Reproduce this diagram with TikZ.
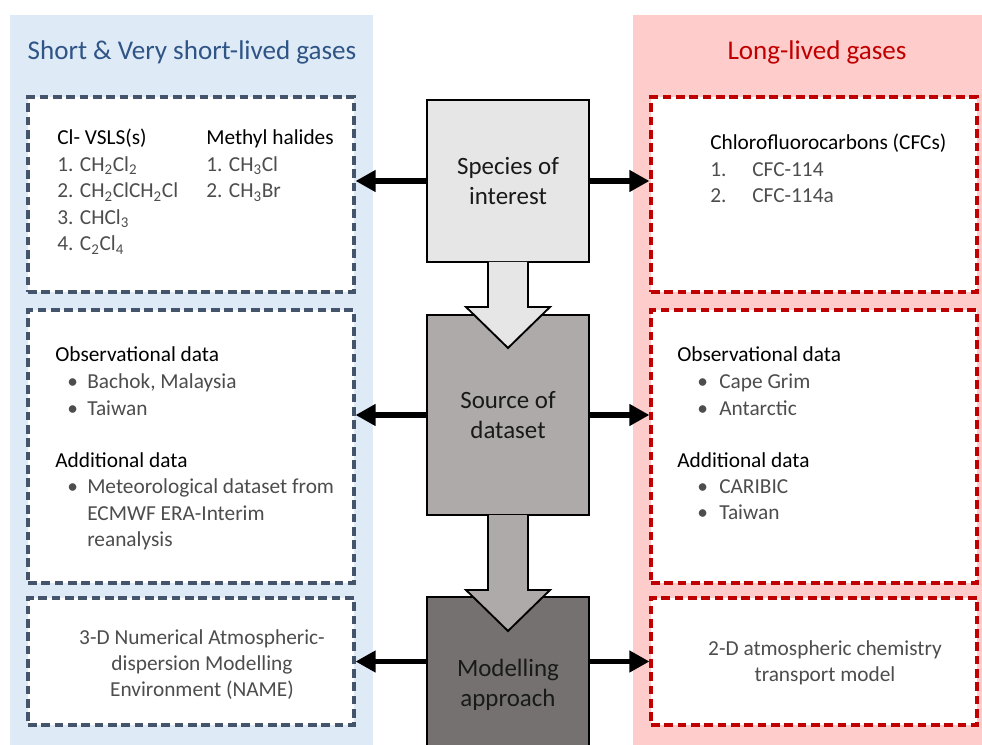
\documentclass[tikz,border=0pt]{standalone}
\usepackage{fontspec}
\setmainfont{Carlito}
\usetikzlibrary{arrows.meta}
\definecolor{shortbg}{HTML}{DEEAF6}
\definecolor{longbg}{HTML}{FFCCCC}
\definecolor{shortline}{HTML}{44546A}
\definecolor{longline}{HTML}{C00000}
\definecolor{shorttitle}{HTML}{2F5486}
\definecolor{longtitle}{HTML}{C00000}
\definecolor{itemgray}{HTML}{4D4D4D}
\definecolor{lightbox}{HTML}{E6E6E6}
\definecolor{midbox}{HTML}{AEAAAA}
\definecolor{darkbox}{HTML}{767171}
\newcommand\bodyfont{\fontsize{16}{19.5}\selectfont}
\newcommand\centrefont{\fontsize{18.7}{22}\selectfont}
\newcommand\titlefont{\fontsize{20.3}{24}\selectfont}
\tikzset{
    dashbox/.style={draw=#1, line width=2.3pt, dash pattern=on 6.5pt off 3.5pt,
        fill=white, inner sep=0pt, minimum width=244.5pt},
    centrebox/.style={draw=black, line width=1.4pt, fill=#1, inner sep=0pt,
        minimum width=121.5pt, align=center, font=\centrefont, text=black!90},
    blockarrow/.style={draw=black, line width=1.4pt, fill=#1, line join=miter},
    link/.style={line width=4.2pt, -{Triangle[length=15pt,width=15.5pt]}},
    head/.style={anchor=base west, inner sep=0pt, font=\bodyfont, text=black},
    item/.style={anchor=base west, inner sep=0pt, font=\bodyfont, text=itemgray},
}
\newcommand\bul{\makebox[15pt][l]{\textbullet}}
\begin{document}
\begin{tikzpicture}[x=0.75pt, y=-0.75pt]
    \useasboundingbox (0,0) rectangle (982,745);
    % Panels
    \fill [shortbg] (10,15) rectangle (373,750);
    \fill [longbg] (633,15) rectangle (990,750);
    \node [anchor=base, inner sep=0pt, font=\titlefont, text=shorttitle] (shorttitle) at (192,60) {Short \& Very short-lived gases};
    \node [anchor=base, inner sep=0pt, font=\titlefont, text=longtitle] (longtitle) at (817,60) {Long-lived gases};
    % Dashed boxes
    \node [dashbox=shortline, minimum height=146.25pt] (lbox1) at (191,194.5) {};
    \node [dashbox=shortline, minimum height=204.75pt] (lbox2) at (191,446.5) {};
    \node [dashbox=shortline, minimum height=95.25pt] (lbox3) at (191,661.5) {};
    \node [dashbox=longline, minimum height=146.25pt] (rbox1) at (814,194.5) {};
    \node [dashbox=longline, minimum height=204.75pt] (rbox2) at (814,446.5) {};
    \node [dashbox=longline, minimum height=95.25pt] (rbox3) at (814,661.5) {};
    % Centre column
    \node [centrebox=lightbox, minimum height=121.5pt] (species) at (508,181) {Species of\\interest};
    \node [centrebox=midbox, minimum height=150pt] (source) at (508,415) {Source of\\dataset};
    \filldraw [blockarrow=lightbox] (488,262) -- (488,307) -- (466,307) -- (508,348) -- (550,307) -- (528,307) -- (528,262);
    \node [centrebox=darkbox, minimum height=132pt] (modelling) at (508,685) {Modelling\\approach};
    \filldraw [blockarrow=midbox] (488,515) -- (488,590) -- (466,590) -- (508,631) -- (550,590) -- (528,590) -- (528,515);
    % Arrows
    \draw [link] (species.west) -- (lbox1.east |- species.west);
    \draw [link] (species.east) -- (rbox1.west |- species.east);
    \draw [link] (source.west) -- (lbox2.east |- source.west);
    \draw [link] (source.east) -- (rbox2.west |- source.east);
    \draw [link] (modelling.west |- lbox3.east) -- (lbox3.east);
    \draw [link] (modelling.east |- rbox3.west) -- (rbox3.west);
    % Short-lived texts
    \node [head] (vsls) at (57,145) {Cl- VSLS(s)};
    \node [item] (vsls1) at (57,171.5) {1. CH\textsubscript{2}Cl\textsubscript{2}};
    \node [item] (vsls2) at (57,198) {2. CH\textsubscript{2}ClCH\textsubscript{2}Cl};
    \node [item] (vsls3) at (57,224.5) {3. CHCl\textsubscript{3}};
    \node [item] (vsls4) at (57,251) {4. C\textsubscript{2}Cl\textsubscript{4}};
    \node [head] (methyl) at (206,145) {Methyl halides};
    \node [item] (methyl1) at (206,171.5) {1. CH\textsubscript{3}Cl};
    \node [item] (methyl2) at (206,198) {2. CH\textsubscript{3}Br};
    \node [head] (lobs) at (55,362) {Observational data};
    \node [item] (lobs1) at (67,388) {\bul Bachok, Malaysia};
    \node [item] (lobs2) at (67,415) {\bul Taiwan};
    \node [head] (ladd) at (55,467) {Additional data};
    \node [item] (ladd1) at (67,493) {\bul Meteorological dataset from};
    \node [item] (ladd2) at (87,520) {ECMWF ERA-Interim};
    \node [item] (ladd3) at (87,546) {reanalysis};
    \node [item, anchor=base] (name1) at (202,644) {3-D Numerical Atmospheric-};
    \node [item, anchor=base] (name2) at (202,670) {dispersion Modelling};
    \node [item, anchor=base] (name3) at (202,696) {Environment (NAME)};
    % Long-lived texts
    \node [head] (cfc) at (710,150) {Chlorofluorocarbons (CFCs)};
    \node [item] (cfc1) at (710,177) {1.};
    \node [item] (cfc1t) at (752,177) {CFC-114};
    \node [item] (cfc2) at (710,203) {2.};
    \node [item] (cfc2t) at (752,203) {CFC-114a};
    \node [head] (robs) at (677,362) {Observational data};
    \node [item] (robs1) at (697,388) {\bul\hspace{1.5pt}Cape Grim};
    \node [item] (robs2) at (697,415) {\bul\hspace{1.5pt}Antarctic};
    \node [head] (radd) at (677,467) {Additional data};
    \node [item] (radd1) at (697,493) {\bul\hspace{1.5pt}CARIBIC};
    \node [item] (radd2) at (697,519) {\bul\hspace{1.5pt}Taiwan};
    \node [item, anchor=base] (chem1) at (825,655) {2-D atmospheric chemistry};
    \node [item, anchor=base] (chem2) at (825,681) {transport model};
\end{tikzpicture}
\end{document}
